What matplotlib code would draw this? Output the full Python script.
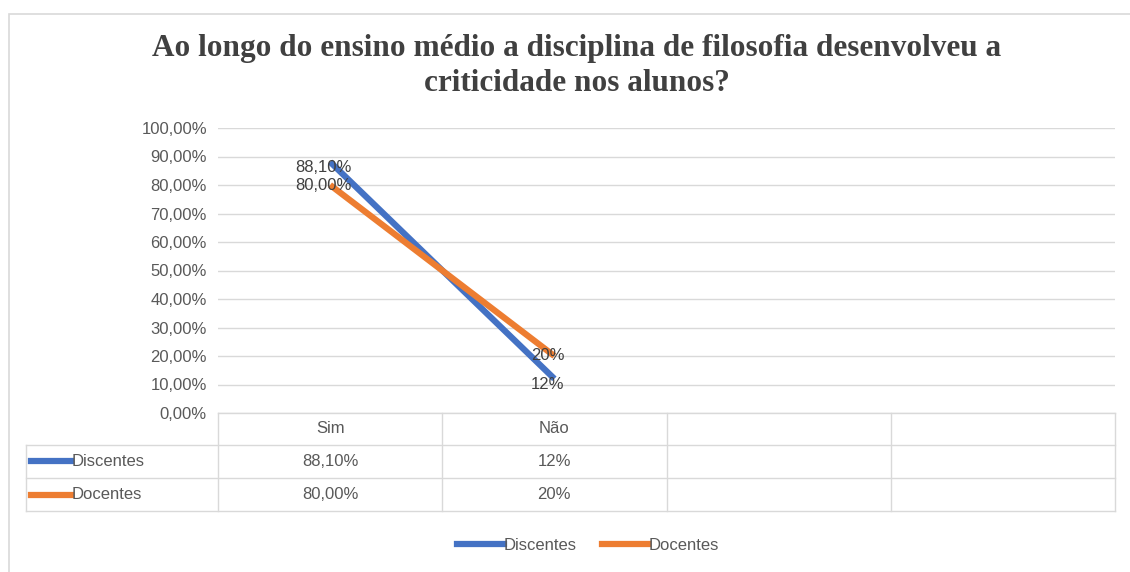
import matplotlib
matplotlib.use("Agg")
import matplotlib.pyplot as plt
from matplotlib.patches import Rectangle
from matplotlib.lines import Line2D
import matplotlib.transforms as mtransforms

# dados
categorias = ["Sim", "Não", "", ""]
discentes = [0.881, 0.12]
docentes = [0.80, 0.20]
rotulos_discentes = ["88,10%", "12%"]
rotulos_docentes = ["80,00%", "20%"]
series = ["Discentes", "Docentes"]
cores = ["#4472C4", "#ED7D31"]
titulo = "Ao longo do ensino médio a disciplina de filosofia desenvolveu a\ncriticidade nos alunos?"

cinza = "#595959"
grade = "#D9D9D9"
plt.rcParams["font.family"] = ["Liberation Sans", "DejaVu Sans"]

W, H = 1130, 572
fig = plt.figure(figsize=(W / 100, H / 100), dpi=100)

# moldura do gráfico
fig.patches.append(Rectangle((9 / W, -0.05), 1.05, 1.05 - 14 / H, transform=fig.transFigure,
                             fill=False, edgecolor="#D9D9D9", linewidth=1.2))

fig.text(577 / W, 1 - 66 / H, titulo, ha="center", va="center", fontsize=22.5,
         fontweight="bold", color="#404040", family=["Liberation Serif", "DejaVu Serif"],
         linespacing=1.25)

ax = fig.add_axes([218 / W, 1 - 413 / H, (1115 - 218) / W, (413 - 128) / H])
ax.set_xlim(-0.5, len(categorias) - 0.5)
ax.set_ylim(0, 1)
ax.set_yticks([i / 10 for i in range(11)])
ax.set_yticklabels([f"{i * 10},00%" for i in range(11)], color=cinza, fontsize=12)
ax.tick_params(axis="y", length=0, pad=8)
ax.set_xticks([])
for s in ax.spines.values():
    s.set_visible(False)
ax.grid(axis="y", color=grade, linewidth=1)
ax.set_axisbelow(True)

x = list(range(len(discentes)))
ax.plot(x, discentes, color=cores[0], linewidth=4.5, solid_capstyle="butt", zorder=3)
ax.plot(x, docentes, color=cores[1], linewidth=4.5, solid_capstyle="butt", zorder=4)
for xi, yi, r in zip(x, discentes, rotulos_discentes):
    ax.text(xi - 0.03, yi - 0.02, r, ha="center", va="center", color="#404040", fontsize=12, zorder=5)
for xi, yi, r in zip(x, docentes, rotulos_docentes):
    ax.text(xi - 0.03, yi, r, ha="center", va="center", color="#404040", fontsize=12, zorder=5)

# tabela de dados abaixo do eixo
tr = mtransforms.blended_transform_factory(ax.transData, ax.transAxes)
n = len(categorias)
esq = -1.356
linhas_y = [0, -0.112, -0.228, -0.344]
kw = dict(transform=tr, clip_on=False, color=grade, linewidth=1)
ax.add_line(Line2D([-0.5, n - 0.5], [0, 0], **kw))
for yl in linhas_y[1:]:
    ax.add_line(Line2D([esq, n - 0.5], [yl, yl], **kw))
for i in range(n + 1):
    ax.add_line(Line2D([i - 0.5, i - 0.5], [0, linhas_y[-1]], **kw))
ax.add_line(Line2D([esq, esq], [linhas_y[1], linhas_y[-1]], **kw))

for i, c in enumerate(categorias):
    ax.text(i, (linhas_y[0] + linhas_y[1]) / 2, c, transform=tr, ha="center", va="center",
            color=cinza, fontsize=12)
valores = [rotulos_discentes, rotulos_docentes]
for k in range(2):
    ym = (linhas_y[k + 1] + linhas_y[k + 2]) / 2
    ax.add_line(Line2D([esq + 0.02, esq + 0.2], [ym, ym], transform=tr, clip_on=False,
                       color=cores[k], linewidth=4.5))
    ax.text(esq + 0.205, ym, series[k], transform=tr, ha="left", va="center",
            color=cinza, fontsize=12)
    for i, v in enumerate(valores[k]):
        ax.text(i, ym, v, transform=tr, ha="center", va="center", color=cinza, fontsize=12)

# legenda
alcas = [Line2D([], [], color=cores[k], linewidth=4.5) for k in range(2)]
fig.legend(alcas, series, loc="center", bbox_to_anchor=(588 / W, 1 - 545 / H), ncol=2,
           frameon=False, fontsize=12, labelcolor=cinza, handlelength=2.8,
           handletextpad=0.0, columnspacing=1.5)

fig.savefig("out.png", dpi=100, facecolor="white")
